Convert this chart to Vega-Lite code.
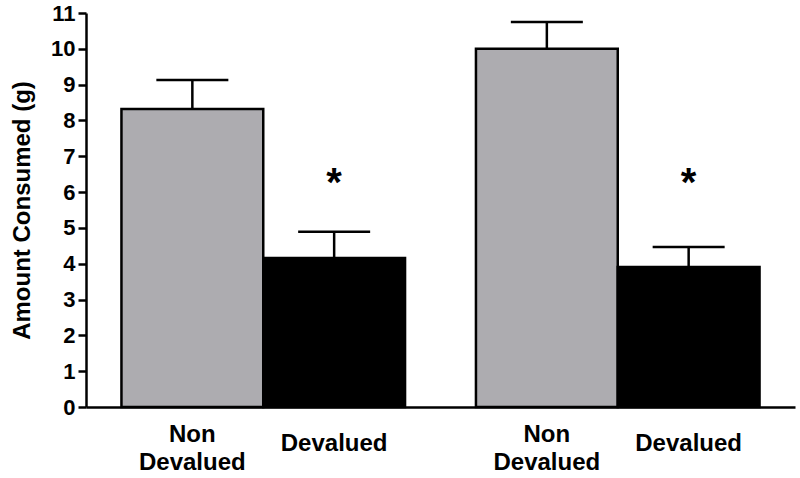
{
  "$schema": "https://vega.github.io/schema/vega-lite/v6.json",
  "width": 709,
  "height": 394,
  "autosize": {"type": "none"},
  "padding": {"left": 86, "top": 13, "right": 5, "bottom": 71},
  "background": "white",
  "config": {
    "view": {"stroke": null},
    "font": "Liberation Sans",
    "axisY": {
      "tickCount": 20,
      "format": "d",
      "labelOverlap": false,
      "grid": false,
      "titleFont": "Liberation Sans",
      "titleFontSize": 24,
      "titleFontWeight": "bold",
      "titleColor": "black",
      "titlePadding": 16,
      "labelFont": "Liberation Sans",
      "labelFontSize": 22,
      "labelFontWeight": "bold",
      "labelColor": "black",
      "labelPadding": 3,
      "tickSize": 8,
      "tickWidth": 2.5,
      "tickColor": "black",
      "domainColor": "black",
      "domainWidth": 2.5
    }
  },
  "data": {
    "values": [
      {"group": "A", "condition": "Non Devalued", "label": "Non\nDevalued", "mean": 8.32, "upper": 9.13, "sig": ""},
      {"group": "A", "condition": "Devalued", "label": "Devalued", "mean": 4.16, "upper": 4.89, "sig": "*"},
      {"group": "B", "condition": "Non Devalued", "label": "Non\nDevalued", "mean": 10.0, "upper": 10.75, "sig": ""},
      {"group": "B", "condition": "Devalued", "label": "Devalued", "mean": 3.91, "upper": 4.47, "sig": "*"}
    ]
  },
  "encoding": {
    "x": {
      "field": "group",
      "type": "nominal",
      "scale": {"paddingInner": 0.2, "paddingOuter": 0.1},
      "axis": {"labels": false, "ticks": false, "title": null, "domainColor": "black", "domainWidth": 2.5}
    },
    "xOffset": {
      "field": "condition",
      "type": "nominal",
      "sort": ["Non Devalued", "Devalued"],
      "scale": {"paddingInner": 0, "paddingOuter": 0}
    }
  },
  "layer": [
    {
      "mark": {"type": "rule", "color": "black", "strokeWidth": 2.5},
      "encoding": {
        "y": {
          "field": "mean",
          "type": "quantitative",
          "scale": {"domain": [0, 11], "nice": false},
          "axis": {
            "values": [0, 1, 2, 3, 4, 5, 6, 7, 8, 9, 10, 11],
            "tickCount": 20,
            "format": "d",
            "title": "Amount Consumed (g)"
          }
        },
        "y2": {"field": "upper"}
      }
    },
    {
      "mark": {"type": "tick", "color": "black", "size": 72, "thickness": 2.5, "opacity": 1},
      "encoding": {
        "y": {"field": "upper", "type": "quantitative"}
      }
    },
    {
      "mark": {"type": "bar", "stroke": "black", "strokeWidth": 2.5},
      "encoding": {
        "y": {"field": "mean", "type": "quantitative"},
        "fill": {
          "field": "condition",
          "type": "nominal",
          "scale": {"domain": ["Non Devalued", "Devalued"], "range": ["#adacb0", "#000000"]},
          "legend": null
        }
      }
    },
    {
      "mark": {"type": "text", "fontSize": 40, "fontWeight": "bold", "baseline": "middle", "align": "center", "color": "black", "dy": 6},
      "encoding": {
        "y": {"datum": 6.4},
        "text": {"field": "sig"}
      }
    },
    {
      "transform": [{"filter": "datum.condition === 'Non Devalued'"}],
      "mark": {"type": "text", "fontSize": 24, "fontWeight": "bold", "baseline": "middle", "align": "center", "color": "black", "lineBreak": "\n", "lineHeight": 28, "dy": 28},
      "encoding": {
        "y": {"datum": 0},
        "text": {"field": "label"}
      }
    },
    {
      "transform": [{"filter": "datum.condition === 'Devalued'"}],
      "mark": {"type": "text", "fontSize": 24, "fontWeight": "bold", "baseline": "middle", "align": "center", "color": "black", "dy": 37},
      "encoding": {
        "y": {"datum": 0},
        "text": {"field": "label"}
      }
    }
  ]
}
